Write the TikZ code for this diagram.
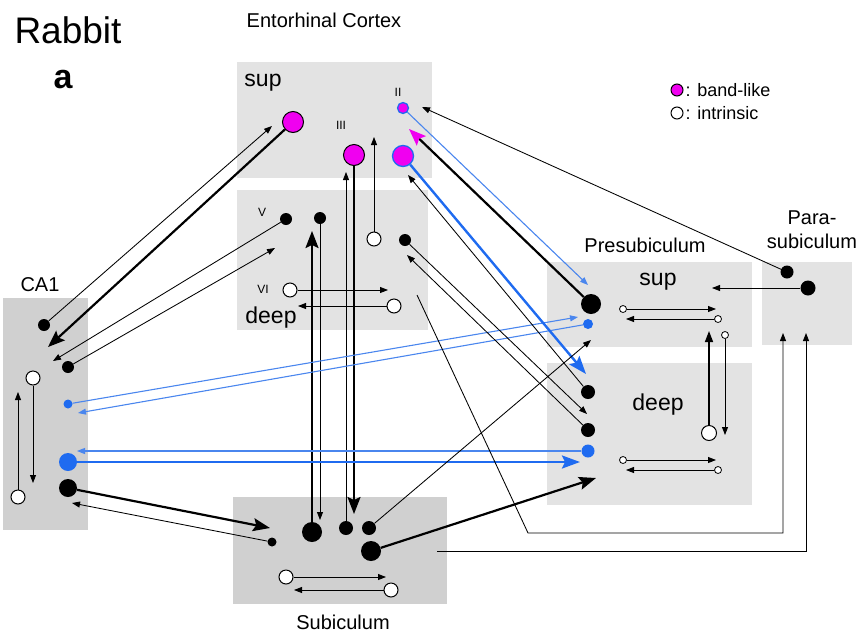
\documentclass[tikz,border=0pt]{standalone}
\usepackage{fontspec}
\setmainfont{Liberation Sans}
\usetikzlibrary{arrows.meta, positioning}
\definecolor{bandMag}{HTML}{F000F0}
\definecolor{projBlue}{HTML}{1F6BF0}
\definecolor{lightBlue}{HTML}{4A86EE}
\definecolor{boxGray}{HTML}{E3E3E3}
\definecolor{boxDark}{HTML}{D0D0D0}

\begin{document}
\begin{tikzpicture}[x=1pt, y=-1pt,
    region/.style={fill=boxGray},
    regiondk/.style={fill=boxDark},
    blk/.style={circle, inner sep=0pt, fill=black, minimum size=#1},
    blk/.default=12pt,
    opn/.style={circle, inner sep=0pt, fill=white, draw=black, line width=1pt,
                minimum size=#1},
    opn/.default=14pt,
    band/.style={circle, inner sep=0pt, fill=bandMag, draw=black, line width=1pt,
                 minimum size=#1},
    bandb/.style={circle, inner sep=0pt, fill=bandMag, draw=projBlue, line width=1.3pt,
                  minimum size=#1},
    bluec/.style={circle, inner sep=0pt, fill=projBlue, minimum size=#1},
    thinarr/.style={-{Triangle[length=8pt,width=6pt]}, line width=0.85pt},
    medarr/.style={-{Triangle[length=11pt,width=8pt]}, line width=1.5pt},
    thickarr/.style={-{Stealth[length=17pt,width=13pt,inset=3pt]}, line width=2.2pt},
    bluethin/.style={-{Triangle[length=8pt,width=6pt]}, lightBlue, line width=1.1pt},
    bluethick/.style={-{Stealth[length=18pt,width=13pt,inset=3pt]}, projBlue,
                      line width=2.4pt},
    lbl/.style={font=\fontsize{20}{24}\selectfont},
    laylbl/.style={font=\fontsize{23}{26}\selectfont},
    num/.style={font=\fontsize{12}{13}\selectfont},
    lgd/.style={font=\fontsize{18}{20}\selectfont, inner sep=0pt},
  ]
    \useasboundingbox (0,0) rectangle (866,635);

    % REGIONS
    \fill[region] (237,62) rectangle (432,178);    % EC sup
    \fill[region] (237,190) rectangle (428,330);   % EC deep
    \fill[regiondk] (3,298) rectangle (88,530);    % CA1
    \fill[regiondk] (233,497) rectangle (447,604); % Subiculum
    \fill[region] (547,262) rectangle (752,347);   % PrS sup
    \fill[region] (547,363) rectangle (752,505);   % PrS deep
    \fill[region] (762,262) rectangle (852,345);   % PaS

    % LABELS
    \node[anchor=west, font=\fontsize{37}{40}\selectfont] (rabbit) at (11,30) {Rabbit};
    \node[font=\fontsize{34}{36}\selectfont\bfseries] (panel) at (63,80) {a};
    \node[lbl] (ecT) at (324,20) {Entorhinal Cortex};
    \node[laylbl] (ecSup) at (263,83) {sup};
    \node[laylbl] (ecDeep) at (271,318) {deep};
    \node[num] (lII) at (398,92) {II};
    \node[num] (lIII) at (341,125) {III};
    \node[num] (lV) at (262,212) {V};
    \node[num] (lVI) at (263,289) {VI};
    \node[lbl] (caT) at (40,285) {CA1};
    \node[lbl] (subT) at (343,622) {Subiculum};
    \node[lbl] (prsT) at (645,245) {Presubiculum};
    \node[lbl, align=center] (pasT) at (812,230) {Para-\\subiculum};
    \node[laylbl] (prsSup) at (658,282) {sup};
    \node[laylbl] (prsDeep) at (658,405) {deep};

    % LEGEND
    \node[band=12pt] (legBand) at (677,90) {};
    \node[lgd, right=2pt of legBand] (legBandT) {: band-like};
    \node[opn=12pt] (legOpen) at (677,113) {};
    \node[lgd, right=2pt of legOpen] (legOpenT) {: intrinsic};

    % EC sup cells
    \node[band=21pt] (ecA) at (293,122) {};
    \node[band=21pt] (ecIII) at (354,155) {};
    \node[bandb=11pt] (ecIIs) at (403,108) {};
    \node[bandb=21pt] (ecIIb) at (403,156) {};
    % EC deep cells
    \node[blk] (ecV1) at (286,219) {};
    \node[blk] (ecV2) at (320,218) {};
    \node[opn] (ecOd) at (374,239) {};
    \node[blk] (ecVd) at (405,240) {};
    \node[opn] (ecVIa) at (290,290) {};
    \node[opn] (ecVIb) at (394,306) {};
    % CA1 cells
    \node[blk] (caA) at (44,325) {};
    \node[blk] (caB) at (68,367) {};
    \node[opn] (caOa) at (33,378) {};
    \node[bluec=9pt] (caBs) at (68,404) {};
    \node[bluec=18pt] (caBb) at (68,462) {};
    \node[blk=18pt] (caC) at (68,488) {};
    \node[opn] (caOb) at (18,497) {};
    % Subiculum cells
    \node[blk=9pt] (subS) at (272,542) {};
    \node[blk=20pt] (subA) at (312,532) {};
    \node[blk=14pt] (subB) at (346,528) {};
    \node[blk=14pt] (subC) at (369,528) {};
    \node[blk=20pt] (subD) at (371,551) {};
    \node[opn] (subOa) at (286,577) {};
    \node[opn] (subOb) at (391,590) {};
    % Presubiculum cells
    \node[blk=20pt] (prsA) at (591,304) {};
    \node[bluec=10pt] (prsBs) at (588,324) {};
    \node[blk=14pt] (prsB) at (588,392) {};
    \node[blk=14pt] (prsC) at (588,430) {};
    \node[bluec=13pt] (prsBb) at (588,451) {};
    \node[opn=7pt, line width=0.8pt] (prsO1) at (623,309) {};
    \node[opn=7pt, line width=0.8pt] (prsO2) at (718,319) {};
    \node[opn=7pt, line width=0.8pt] (prsO3) at (725,335) {};
    \node[opn=15pt] (prsO4) at (709,433) {};
    \node[opn=7pt, line width=0.8pt] (prsO5) at (623,460) {};
    \node[opn=7pt, line width=0.8pt] (prsO6) at (718,470) {};
    % Parasubiculum cells
    \node[blk=13pt] (pasA) at (787,272) {};
    \node[blk=15pt] (pasB) at (808,288) {};

    % Arrow ends
    \coordinate (t1) at (272,126);  \coordinate (t2) at (48,347);
    \coordinate (t3) at (53,361);   \coordinate (t4) at (275,248);
    \coordinate (t5) at (33,483);   \coordinate (t6) at (18,392);
    \coordinate (t7) at (270,528);  \coordinate (t8) at (72,503);
    \coordinate (t9) at (312,231);  \coordinate (t10) at (320,520);
    \coordinate (t11) at (346,172); \coordinate (t12) at (354,514);
    \coordinate (t13) at (374,137); \coordinate (t14) at (388,290);
    \coordinate (t15) at (298,306); \coordinate (t16) at (386,577);
    \coordinate (t17) at (294,590); \coordinate (t18) at (578,317);
    \coordinate (t19) at (78,413);  \coordinate (t20) at (580,462);
    \coordinate (t21) at (77,451);  \coordinate (t22) at (588,285);
    \coordinate (t23) at (409,129); \coordinate (t24) at (586,374);
    \coordinate (t25) at (408,175); \coordinate (t26) at (587,414);
    \coordinate (t27) at (407,255); \coordinate (t28) at (422,107);
    \coordinate (t29) at (712,288); \coordinate (t30) at (596,478);
    \coordinate (t31) at (591,340); \coordinate (t32) at (716,309);
    \coordinate (t33) at (626,319); \coordinate (t34) at (709,331);
    \coordinate (t35) at (725,435); \coordinate (t36) at (716,460);
    \coordinate (t37) at (626,470); \coordinate (t38) at (783,333);
    \coordinate (t39) at (806,333);
    \coordinate (ecOut) at (417,295); \coordinate (ecBend) at (528,533);
    \coordinate (subOut) at (437,551);

    % CA1 <-> EC
    \draw[thinarr] (caA) -- (t1);
    \draw[thickarr] (ecA) -- (t2);
    \draw[thinarr] (ecV1) -- (t3);
    \draw[thinarr] (caB) -- (t4);
    % intrinsic
    \draw[thinarr] (caOa) -- (t5);
    \draw[thinarr] (caOb) -- (t6);
    \draw[thinarr] (ecOd) -- (t13);
    \draw[thinarr] (ecVIa) -- (t14);
    \draw[thinarr] (ecVIb) -- (t15);
    \draw[thinarr] (subOa) -- (t16);
    \draw[thinarr] (subOb) -- (t17);
    \draw[thinarr] (prsO1) -- (t32);
    \draw[thinarr] (prsO2) -- (t33);
    \draw[medarr] (prsO4) -- (t34);
    \draw[thinarr] (prsO3) -- (t35);
    \draw[thinarr] (prsO5) -- (t36);
    \draw[thinarr] (prsO6) -- (t37);
    % CA1 <-> Sub
    \draw[thickarr] (caC) -- (t7);
    \draw[thinarr] (subS) -- (t8);
    % EC <-> Sub
    \draw[thickarr] (subA) -- (t9);
    \draw[thinarr] (ecV2) -- (t10);
    \draw[thinarr] (subB) -- (t11);
    \draw[thickarr] (ecIII) -- (t12);
    % CA1 <-> PrS
    \draw[bluethin] (caBs) -- (t18);
    \draw[bluethin] (prsBs) -- (t19);
    \draw[bluethick] (caBb) -- (t20);
    \draw[bluethin] (prsBb) -- (t21);
    % EC <-> PrS
    \draw[bluethin] (ecIIs) -- (t22);
    \draw[thickarr, -{Stealth[length=17pt,width=13pt,inset=3pt,color=bandMag]}]
      (prsA) -- (t23);
    \draw[bluethick] (ecIIb) -- (t24);
    \draw[thinarr] (prsB) -- (t25);
    \draw[thinarr] (ecVd) -- (t26);
    \draw[thinarr] (prsC) -- (t27);
    % PaS
    \draw[thinarr] (pasA) -- (t28);
    \draw[thinarr] (pasB) -- (t29);
    % Sub -> PrS
    \draw[thickarr] (subD) -- (t30);
    \draw[thinarr] (subC) -- (t31);
    % to PaS
    \draw[thinarr] (ecOut) -- (ecBend) -| (t38);
    \draw[thinarr] (subOut) -| (t39);
  \end{tikzpicture}
\end{document}
